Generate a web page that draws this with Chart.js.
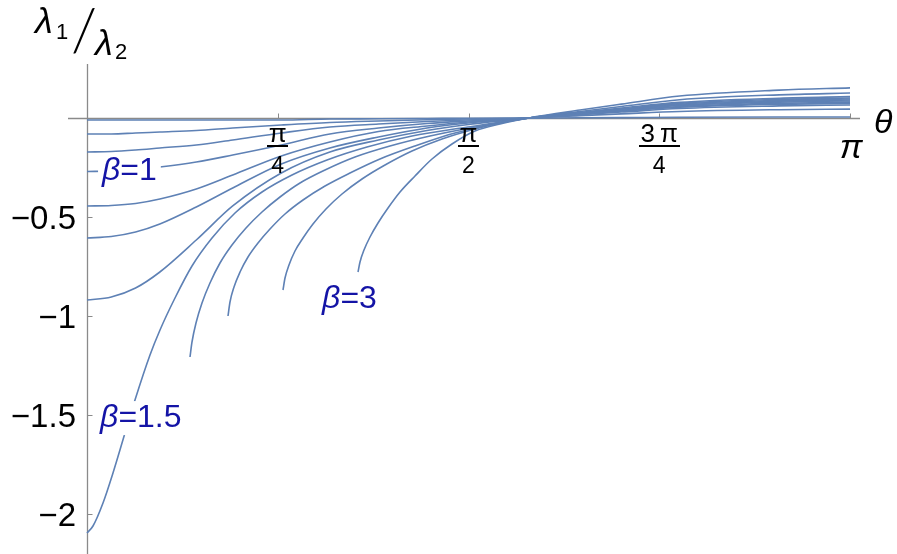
<!DOCTYPE html>
<html>
<head>
<meta charset="utf-8">
<script src="https://cdn.jsdelivr.net/npm/chart.js@4.4.0/dist/chart.umd.min.js"></script>
<style>
  html, body { margin: 0; padding: 0; background: #fff; }
  #wrap { width: 897px; height: 554px; position: relative; }
</style>
</head>
<body>
<div id="wrap"><canvas id="chartCanvas" width="897" height="554"></canvas></div>
<script>
// theta grid shared by the curves that start at theta = 0
var thetaGrid = [0, 0.1, 0.2, 0.3, 0.45, 0.6, 0.8, 1.0, 1.2, 1.4, 1.57, 1.82, 2.03, 2.2, 2.44, 2.85, Math.PI];

// lambda1/lambda2, one array per beta curve
var curveA = [-0.01, -0.01, -0.01, -0.01, -0.01, -0.01, -0.01, -0.005, -0.004, -0.0025, -0.001, 0, 0.001, 0.002, 0.004, 0.005, 0.005];
var curveB = [-0.0808, -0.0808, -0.0758, -0.0707, -0.0631, -0.0505, -0.0354, -0.0227, -0.0152, -0.0091, -0.0051, 0, 0.012, 0.021, 0.033, 0.042, 0.045];
var curveC = [-0.1717, -0.1692, -0.1616, -0.1515, -0.1364, -0.1111, -0.0758, -0.0455, -0.0303, -0.0177, -0.0101, 0, 0.017, 0.03, 0.048, 0.061, 0.066];
var curveD = [-0.2702, -0.2677, -0.2601, -0.2475, -0.2222, -0.1869, -0.1364, -0.0808, -0.0505, -0.0278, -0.0152, 0, 0.019, 0.034, 0.054, 0.069, 0.074]; // beta = 1
var curveE = [-0.4444, -0.4419, -0.4318, -0.4091, -0.3586, -0.2879, -0.1919, -0.1212, -0.0682, -0.0404, -0.0202, 0, 0.021, 0.037, 0.058, 0.074, 0.08];
var curveF = [-0.6061, -0.5985, -0.5758, -0.5354, -0.4495, -0.3535, -0.2323, -0.1515, -0.096, -0.0505, -0.0253, 0, 0.022, 0.04, 0.063, 0.08, 0.086];
var curveG = [-0.9192, -0.904, -0.8586, -0.7778, -0.6162, -0.4444, -0.2778, -0.1717, -0.1111, -0.0631, -0.0328, 0, 0.024, 0.042, 0.066, 0.085, 0.091];

// beta = 1.5 has a steep start, so it gets its own theta points
var thetaH = [0, 0.0247, 0.0659, 0.107, 0.1565, 0.1976, 0.2594, 0.3006, 0.3623, 0.4323, 0.5147, 0.6094, 0.7206, 0.8441, 0.9882, 1.1529, 1.3382, 1.5687, 1.82, 2.03, 2.2, 2.44, 2.85, Math.PI];
var curveH = [-2.096, -2.0606, -1.9444, -1.7929, -1.5909, -1.4242, -1.197, -1.0707, -0.9091, -0.7475, -0.6061, -0.4798, -0.3737, -0.2879, -0.2121, -0.1465, -0.0909, -0.0455, 0, 0.025, 0.044, 0.07, 0.089, 0.096];

// curves that only exist from some theta on
var thetaI = [0.4241, 0.4323, 0.4488, 0.4735, 0.5064, 0.5476, 0.597, 0.6547, 0.7205, 0.7947, 0.877, 0.98, 1.1035, 1.2476, 1.4123, 1.577, 1.82, 2.03, 2.2, 2.44, 2.85, Math.PI];
var curveI = [-1.2071, -1.1313, -1.0354, -0.9343, -0.8333, -0.7323, -0.6414, -0.5556, -0.4747, -0.399, -0.3283, -0.2626, -0.197, -0.1414, -0.0909, -0.0505, 0, 0.026, 0.046, 0.074, 0.094, 0.101];
var thetaJ = [0.5806, 0.5888, 0.6053, 0.63, 0.6629, 0.7041, 0.7535, 0.8153, 0.8894, 0.98, 1.0829, 1.2064, 1.3505, 1.5152, 1.82, 2.03, 2.2, 2.44, 2.85, Math.PI];
var curveJ = [-1.0, -0.9293, -0.8535, -0.7778, -0.702, -0.6313, -0.5606, -0.4848, -0.4141, -0.3434, -0.2778, -0.2071, -0.1414, -0.0758, 0, 0.028, 0.05, 0.079, 0.1, 0.108];
var thetaK = [0.807, 0.8153, 0.8317, 0.8564, 0.8894, 0.9305, 0.984, 1.0499, 1.1323, 1.227, 1.3381, 1.4617, 1.5975, 1.7005, 1.82, 2.03, 2.2, 2.44, 2.85, Math.PI];
var curveK = [-0.8687, -0.8081, -0.7424, -0.6717, -0.6061, -0.5354, -0.4596, -0.3838, -0.3081, -0.2374, -0.1667, -0.1061, -0.0556, -0.0253, 0, 0.033, 0.058, 0.092, 0.117, 0.126];
var thetaL = [1.1158, 1.1241, 1.1405, 1.1652, 1.1982, 1.2394, 1.2888, 1.3505, 1.4205, 1.5028, 1.5975, 1.7005, 1.82, 2.03, 2.2, 2.44, 2.85, Math.PI]; // beta = 3
var curveL = [-0.7778, -0.7273, -0.6667, -0.601, -0.5303, -0.4545, -0.3737, -0.2929, -0.2071, -0.1313, -0.0657, -0.0303, 0, 0.04, 0.07, 0.111, 0.141, 0.152];

var xTicks = [Math.PI / 4, Math.PI / 2, 3 * Math.PI / 4, Math.PI];
var xTickNum = ['\u03c0', '\u03c0', '3\u2009\u03c0', '\u03c0'];
var xTickDen = ['4', '2', '4', ''];
var yTicks = [-0.5, -1, -1.5, -2];
var yTickLabels = ['\u22120.5', '\u22121', '\u22121.5', '\u22122'];

// label anchor = left end of text, baseline (data units)
var curveLabels = [
  { value: '=1', x: 0.062, y: -0.313 },
  { value: '=1.5', x: 0.054, y: -1.561 },
  { value: '=3', x: 0.968, y: -0.96 }
];

var lineColor = 'rgb(94, 129, 181)';
var labelColor = '#1414a6';
var sans = '"Liberation Sans", Arial, sans-serif';

function toPoints(xs, ys) {
  return xs.map(function (x, i) { return { x: x, y: ys[i] }; });
}

var series = [
  toPoints(thetaGrid, curveA), toPoints(thetaGrid, curveB), toPoints(thetaGrid, curveC),
  toPoints(thetaGrid, curveD), toPoints(thetaGrid, curveE), toPoints(thetaGrid, curveF),
  toPoints(thetaGrid, curveG), toPoints(thetaH, curveH), toPoints(thetaI, curveI),
  toPoints(thetaJ, curveJ), toPoints(thetaK, curveK), toPoints(thetaL, curveL)
];

// axes, ticks and labels drawn in the Mathematica look
var axesPlugin = {
  id: 'axesPlugin',
  beforeDatasetsDraw: function (chart) {
    var ctx = chart.ctx;
    var xs = chart.scales.x, ys = chart.scales.y;
    var x0 = Math.round(xs.getPixelForValue(0)) + 0.5, y0 = Math.round(ys.getPixelForValue(0)) + 0.5;
    ctx.save();
    ctx.strokeStyle = '#8a8a8a';
    ctx.lineWidth = 1.3;
    ctx.beginPath();
    ctx.moveTo(chart.chartArea.left, y0); ctx.lineTo(chart.chartArea.right, y0);
    ctx.moveTo(x0, chart.chartArea.top); ctx.lineTo(x0, chart.chartArea.bottom);
    ctx.stroke();
    ctx.lineWidth = 1;
    ctx.beginPath();
    xTicks.forEach(function (t) {
      var px = Math.round(xs.getPixelForValue(t)) + 0.5;
      ctx.moveTo(px, y0); ctx.lineTo(px, y0 - 5);
    });
    yTicks.forEach(function (t) {
      var py = Math.round(ys.getPixelForValue(t)) + 0.5;
      ctx.moveTo(x0, py); ctx.lineTo(x0 + 5, py);
    });
    ctx.stroke();
    ctx.restore();
  },
  afterDatasetsDraw: function (chart) {
    var ctx = chart.ctx;
    var xs = chart.scales.x, ys = chart.scales.y;
    var x0 = xs.getPixelForValue(0), y0 = ys.getPixelForValue(0);
    ctx.save();
    ctx.fillStyle = '#000';
    ctx.textBaseline = 'alphabetic';

    // x tick labels as stacked fractions
    xTicks.forEach(function (t, i) {
      var px = xs.getPixelForValue(t);
      ctx.textAlign = 'center';
      if (xTickDen[i] === '') {
        ctx.font = 'italic 34px ' + sans;
        ctx.fillText(xTickNum[i], px + 1, y0 + 40);
        return;
      }
      ctx.font = '26px ' + sans;
      ctx.fillText(xTickNum[i], px, y0 + 24);
      var w = ctx.measureText(xTickNum[i]).width + 3;
      ctx.fillRect(Math.round(px - w / 2), Math.round(y0 + 27), Math.round(w), 2);
      ctx.font = '23px ' + sans;
      ctx.fillText(xTickDen[i], px, y0 + 55);
    });

    // y tick labels
    ctx.textAlign = 'right';
    ctx.font = '33px ' + sans;
    yTicks.forEach(function (t, i) {
      ctx.fillText(yTickLabels[i], x0 - 11, ys.getPixelForValue(t) + 12);
    });

    // axis titles
    ctx.textAlign = 'left';
    ctx.font = 'italic 34px ' + sans;
    ctx.fillText('\u03b8', 874, 133);
    ctx.font = 'italic 36px ' + sans;
    ctx.fillText('\u03bb', 35, 33);
    ctx.font = '22px ' + sans;
    ctx.fillText('1', 56, 39);
    ctx.font = '300 60px Lato, "Open Sans", sans-serif';
    ctx.fillText('/', 71, 51);
    ctx.font = 'italic 36px ' + sans;
    ctx.fillText('\u03bb', 95, 55);
    ctx.font = '22px ' + sans;
    ctx.fillText('2', 115, 59);

    // curve labels with a white patch under them
    curveLabels.forEach(function (lb) {
      var px = xs.getPixelForValue(lb.x), py = ys.getPixelForValue(lb.y);
      ctx.font = 'italic 32px ' + sans;
      var wb = ctx.measureText('\u03b2').width;
      ctx.font = '32px ' + sans;
      var wv = ctx.measureText(lb.value).width;
      ctx.fillStyle = '#fff';
      ctx.fillRect(px - 4, py - 26, wb + wv + 8, 34);
      ctx.fillStyle = labelColor;
      ctx.font = 'italic 32px ' + sans;
      ctx.fillText('\u03b2', px, py);
      ctx.font = '32px ' + sans;
      ctx.fillText(lb.value, px + wb, py);
    });
    ctx.restore();
  }
};

var ctx = document.getElementById('chartCanvas').getContext('2d');
var chart = new Chart(ctx, {
  type: 'line',
  data: {
    datasets: series.map(function (pts) {
      return {
        data: pts,
        borderColor: lineColor,
        borderWidth: 1.6,
        pointRadius: 0,
        fill: false,
        cubicInterpolationMode: 'monotone'
      };
    })
  },
  options: {
    responsive: false,
    animation: false,
    layout: { padding: { left: 68, right: 37, top: 64, bottom: 0 } },
    plugins: { legend: { display: false }, tooltip: { enabled: false } },
    scales: {
      x: { type: 'linear', min: -0.0782, max: 3.1827, display: false },
      y: { type: 'linear', min: -2.202, max: 0.2727, display: false }
    }
  },
  plugins: [axesPlugin]
});
</script>
</body>
</html>
